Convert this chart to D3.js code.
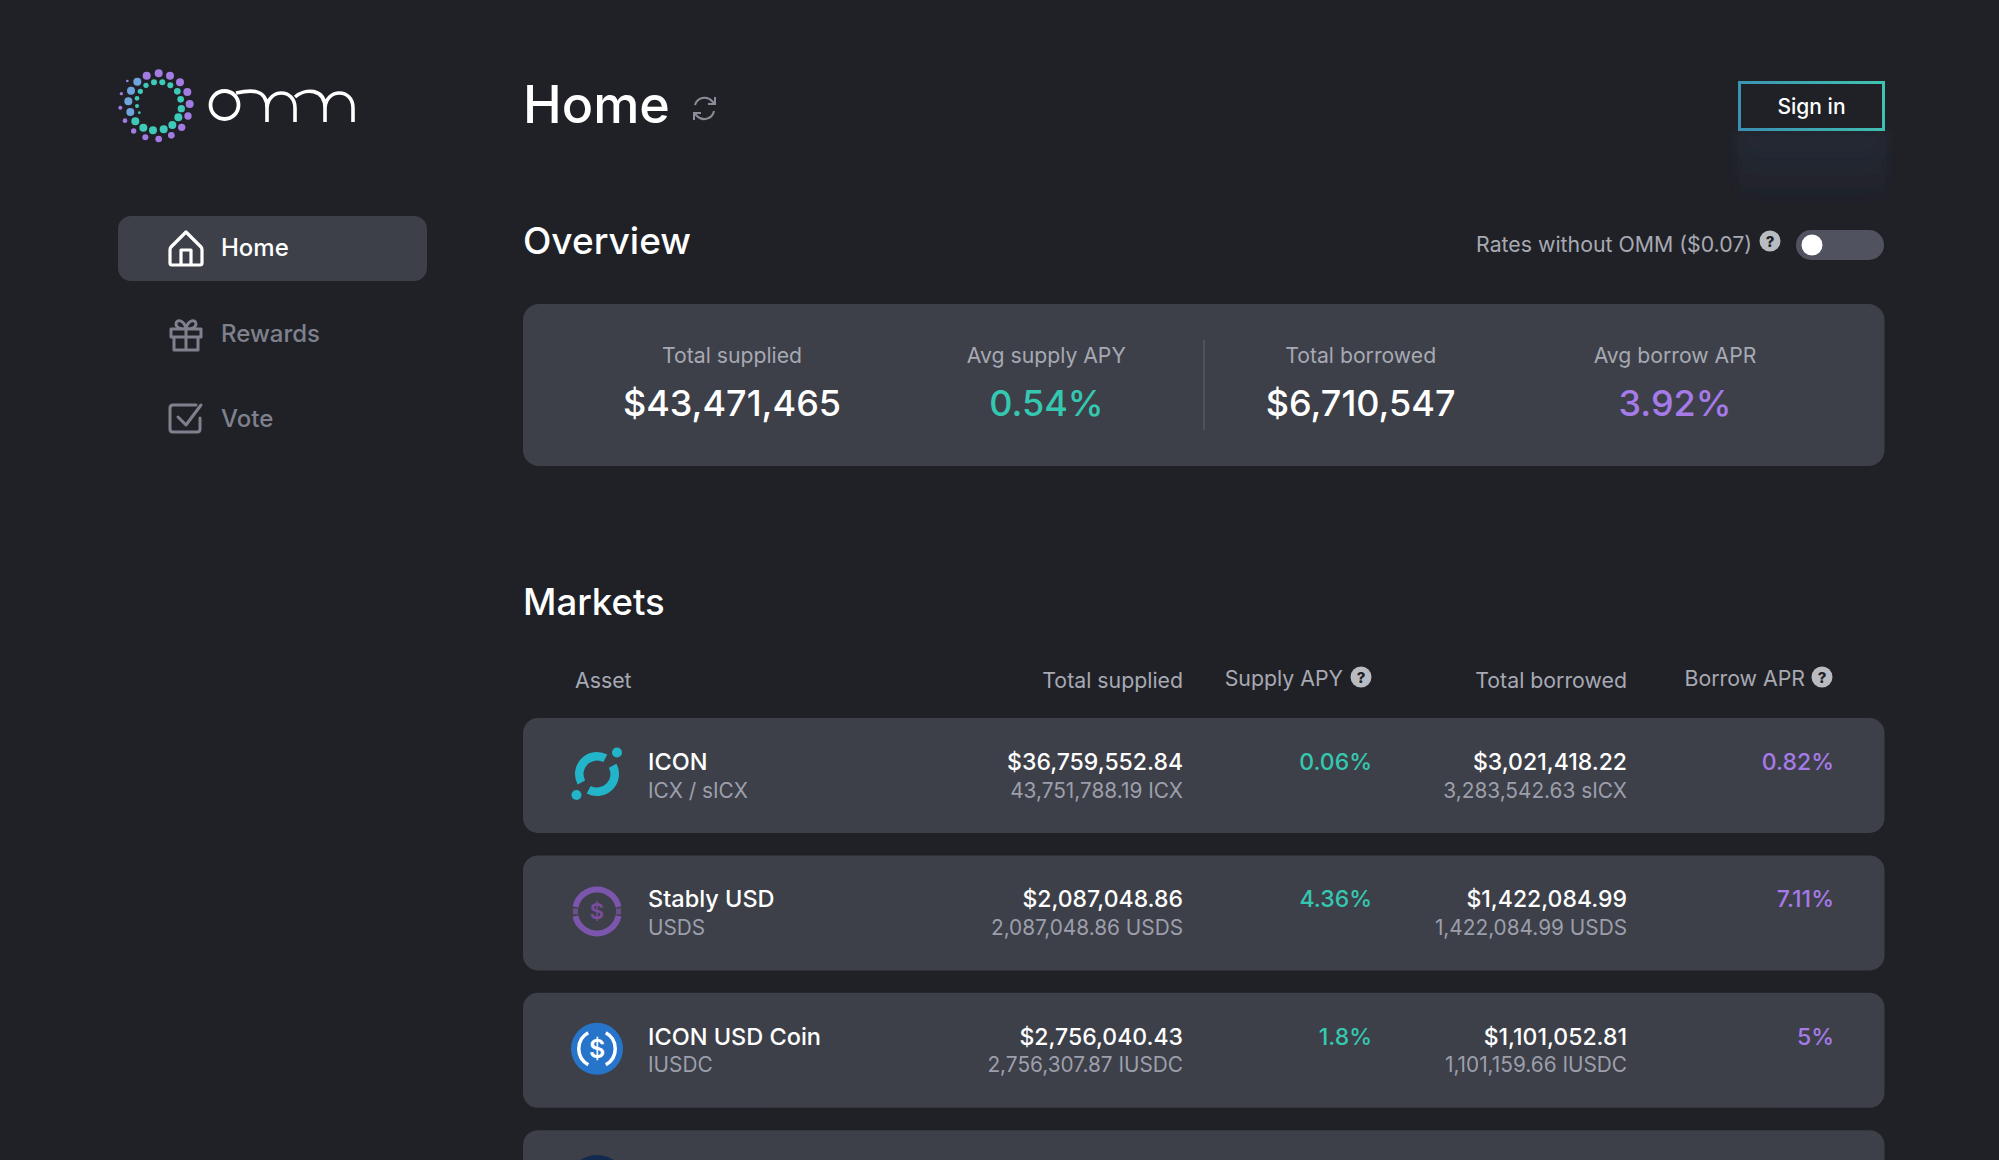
<!DOCTYPE html>
<html>
<head>
<meta charset="utf-8">
<title>OMM home</title>
<script src="https://cdn.jsdelivr.net/npm/d3@7"></script>
<style>
    html, body { margin: 0; padding: 0; background: #202127; overflow: hidden; }
    text { font-family: Inter, "Noto Sans", sans-serif; }
</style>
</head>
<body>
<div id="canvas"></div>
<script>
// overview numbers
const overviewLabels = ['Total supplied', 'Avg supply APY', 'Total borrowed', 'Avg borrow APR'];
const overviewValues = [43471465, 0.54, 6710547, 3.92];
const overviewKinds = ['usd', 'supply', 'usd', 'borrow'];

// markets table
const assetNames = ['ICON', 'Stably USD', 'ICON USD Coin'];
const assetTickers = ['ICX / sICX', 'USDS', 'IUSDC'];
const suppliedUsd = [36759552.84, 2087048.86, 2756040.43];
const suppliedTokens = [43751788.19, 2087048.86, 2756307.87];
const suppliedTicker = ['ICX', 'USDS', 'IUSDC'];
const supplyApy = [0.06, 4.36, 1.8];
const borrowedUsd = [3021418.22, 1422084.99, 1101052.81];
const borrowedTokens = [3283542.63, 1422084.99, 1101159.66];
const borrowedTicker = ['sICX', 'USDS', 'IUSDC'];
const borrowApr = [0.82, 7.11, 5];

const navItems = ['Home', 'Rewards', 'Vote'];

const logoPurple = [[146,40,12],[180,47,12],[210,67,12],[232,96,12],[239,132,12],[234,168,11],[215,202,11],
    [184,226,10],[146,237,10],[106,232,9],[71,213,8],[45,182,7],[31,143,6],[34,101,5],[52,63,4],[110,47,12]];
const logoBlue = [[82,65,12],[63,92,12],[55,124,12],[61,156,12]];
const logoTeal = [[76,184,12],[100,203,12],[129,211,12],[161,208,12],[187,195,12],[205,172,12],[214,146,11],
    [212,118,10],[202,94,10],[181,76,9],[157,67,9],[132,67,9],[108,76,8],[91,94,8],[81,115,7],[81,138,6],[88,158,4]];

const colors = {
    bg: '#202127', card: '#3d4049', white: '#ffffff', label: '#a7a9b3', sub: '#9c9fab',
    nav: '#7e818d', teal: '#35c8b0', purple: '#a67ae8', help: '#b9bbc3'
};

const usd0 = d3.format('$,.0f'), usd2 = d3.format('$,.2f'), num2 = d3.format(',.2f');
const pct = v => d3.format('.2~f')(v) + '%';

const svg = d3.select('#canvas').append('svg').attr('width', 1999).attr('height', 1160)
    .style('display', 'block');
svg.append('rect').attr('width', 1999).attr('height', 1160).attr('fill', colors.bg);

const defs = svg.append('defs');
const glow = defs.append('linearGradient').attr('id', 'glow').attr('x2', 0).attr('y2', 1);
glow.append('stop').attr('offset', 0).attr('stop-color', '#2a3a52').attr('stop-opacity', .35);
glow.append('stop').attr('offset', 1).attr('stop-color', '#2a3a52').attr('stop-opacity', 0);
defs.append('filter').attr('id', 'soft').append('feGaussianBlur').attr('stdDeviation', 8);
const btn = defs.append('linearGradient').attr('id', 'btn').attr('gradientUnits', 'userSpaceOnUse')
    .attr('x1', 1739).attr('x2', 1884).attr('y1', 130).attr('y2', 82);
btn.append('stop').attr('offset', 0).attr('stop-color', '#3a8fb2');
btn.append('stop').attr('offset', 1).attr('stop-color', '#3fc4b0');

function label(g, x, y, txt, size, fill, weight, anchor) {
    return g.append('text').attr('x', x).attr('y', y).text(txt)
        .attr('font-size', size).attr('fill', fill)
        .attr('font-weight', weight || 400).attr('text-anchor', anchor || 'start');
}
function helpIcon(g, x, y) {
    g.append('circle').attr('cx', x).attr('cy', y).attr('r', 10.5).attr('fill', colors.help);
    label(g, x, y + 5.5, '?', 15, colors.bg, 800, 'middle');
}

// logo -----------------------------------------------------------------
const logo = svg.append('g');
const logoX = d3.scaleLinear().domain([0, 300]).range([110, 210]);
const logoY = d3.scaleLinear().domain([0, 270]).range([60, 150]);
[[logoPurple, '#a27ce2'], [logoBlue, '#6ea5dc'], [logoTeal, '#3fc9b8']].forEach(([dots, fill]) => {
    logo.selectAll(null).data(dots).join('circle')
        .attr('cx', d => logoX(d[0])).attr('cy', d => logoY(d[1])).attr('r', d => d[2] / 3)
        .attr('fill', fill);
});
logo.append('circle').attr('cx', 224.5).attr('cy', 105).attr('r', 14)
    .attr('fill', 'none').attr('stroke', '#fff').attr('stroke-width', 3.8);
logo.append('path').attr('fill', 'none').attr('stroke', '#fff').attr('stroke-width', 3.6)
    .attr('d', 'M236,93 C250,90 267,88 267,108 V122 M267,108 C268,88 295,88 295,108 V122 '
        + 'M295,97 C305,88 325,88 325,108 V122 M325,108 C326,88 353,88 353,108 V122');

// side nav -------------------------------------------------------------
const nav = svg.append('g');
const navBase = d3.scaleOrdinal().domain(navItems).range([256, 342, 427]);
nav.append('rect').attr('x', 118).attr('y', 216).attr('width', 309).attr('height', 65)
    .attr('rx', 13).attr('fill', colors.card);
nav.selectAll('text').data(navItems).join('text')
    .attr('x', 221).attr('y', d => navBase(d)).text(d => d)
    .attr('font-size', 24).attr('font-weight', 500)
    .attr('fill', d => d == 'Home' ? colors.white : colors.nav);
nav.append('path').attr('fill', 'none').attr('stroke', '#fff').attr('stroke-width', 3.2)
    .attr('stroke-linejoin', 'round')
    .attr('d', 'M186,232 L171,247 Q170,248 170,250 V263 Q170,265 172,265 H200 Q202,265 202,263 V250 Q202,248 201,247 Z M181,265 V250 H191 V265');
nav.append('path').attr('fill', 'none').attr('stroke', colors.nav).attr('stroke-width', 3)
    .attr('stroke-linejoin', 'round')
    .attr('d', 'M171,329 H201 V337 H171 Z M174,337 V350 H198 V337 M186,329 V350 '
        + 'M186,329 C180,329 176,327 176,324 C176,319 184,319 186,329 C188,319 196,319 196,324 C196,327 192,329 186,329');
nav.append('path').attr('fill', 'none').attr('stroke', colors.nav).attr('stroke-width', 3)
    .attr('stroke-linecap', 'round').attr('stroke-linejoin', 'round')
    .attr('d', 'M196,405 H173 Q170,405 170,408 V429 Q170,432 173,432 H197 Q200,432 200,429 V418 M178,417 L186,425 L201,405');

// header ---------------------------------------------------------------
const head = svg.append('g');
label(head, 523, 123, 'Home', 52, colors.white, 500);
const refresh = head.append('g').attr('fill', 'none').attr('stroke', '#8a8d99').attr('stroke-width', 2);
refresh.append('path').attr('d', 'M695,105 A10,10 0 0 1 712,101 L715,104 M715,97 V104 H708');
refresh.append('path').attr('d', 'M714,111 A10,10 0 0 1 697,116 L694,113 M694,120 V113 H701');
head.append('rect').attr('x', 1738).attr('y', 130).attr('width', 148).attr('height', 75)
    .attr('fill', 'url(#glow)').attr('filter', 'url(#soft)');
head.append('rect').attr('x', 1739.5).attr('y', 82.5).attr('width', 144).attr('height', 47)
    .attr('fill', colors.bg).attr('stroke', 'url(#btn)').attr('stroke-width', 3);
label(head, 1811.5, 113.5, 'Sign in', 21, colors.white, 500, 'middle');

label(head, 523, 254, 'Overview', 37, colors.white, 500);
label(head, 1752, 252, 'Rates without OMM ($0.07)', 21.3, colors.label, 400, 'end');
helpIcon(head, 1770, 241);
head.append('rect').attr('x', 1796).attr('y', 230).attr('width', 88).attr('height', 30).attr('rx', 15).attr('fill', '#50535f');
head.append('circle').attr('cx', 1812).attr('cy', 245).attr('r', 10.5).attr('fill', '#fff');

// overview card --------------------------------------------------------
const card = svg.append('g');
card.append('rect').attr('x', 523).attr('y', 304).attr('width', 1361.5).attr('height', 162)
    .attr('rx', 16).attr('fill', colors.card);
card.append('line').attr('x1', 1204).attr('x2', 1204).attr('y1', 340).attr('y2', 430)
    .attr('stroke', '#555862').attr('stroke-width', 1.5);
const overviewX = d3.scalePoint().domain(overviewLabels).range([732, 1675]);
const overviewFill = {usd: colors.white, supply: colors.teal, borrow: colors.purple};
overviewLabels.forEach((d, i) => {
    const kind = overviewKinds[i];
    label(card, overviewX(d), 363, d, 21.2, colors.label, 400, 'middle');
    label(card, overviewX(d), 416, kind == 'usd' ? usd0(overviewValues[i]) : pct(overviewValues[i]),
        36, overviewFill[kind], 500, 'middle');
});

// markets --------------------------------------------------------------
const market = svg.append('g');
label(market, 523, 615, 'Markets', 36.6, colors.white, 500);
label(market, 575, 688, 'Asset', 21.3, colors.label);
label(market, 1183, 688, 'Total supplied', 21.3, colors.label, 400, 'end');
label(market, 1343, 686, 'Supply APY', 21.3, colors.label, 400, 'end');
helpIcon(market, 1361, 677);
label(market, 1627, 688, 'Total borrowed', 21.3, colors.label, 400, 'end');
label(market, 1805, 686, 'Borrow APR', 21.3, colors.label, 400, 'end');
helpIcon(market, 1822, 677);

// the fourth row is cut off by the bottom of the page
const rowY = d3.scaleLinear().domain([0, 1]).range([718, 855.4]);
market.selectAll('rect.row').data(d3.range(4)).join('rect').attr('class', 'row')
    .attr('x', 523).attr('y', d => rowY(d)).attr('width', 1361.5).attr('height', 115)
    .attr('rx', 15).attr('fill', colors.card);

assetNames.forEach((name, i) => {
    const y = rowY(i);
    const g = market.append('g');
    label(g, 648, y + 52, name, 23.5, colors.white, 500);
    label(g, 648, y + 79.5, assetTickers[i], 20.8, colors.sub);
    label(g, 1183, y + 52, usd2(suppliedUsd[i]), 23, colors.white, 500, 'end');
    label(g, 1183, y + 79.5, num2(suppliedTokens[i]) + ' ' + suppliedTicker[i], 20.8, colors.sub, 400, 'end');
    label(g, 1372, y + 52, pct(supplyApy[i]), 23, colors.teal, 500, 'end');
    label(g, 1627, y + 52, usd2(borrowedUsd[i]), 23, colors.white, 500, 'end');
    label(g, 1627, y + 79.5, num2(borrowedTokens[i]) + ' ' + borrowedTicker[i], 20.8, colors.sub, 400, 'end');
    label(g, 1834, y + 52, pct(borrowApr[i]), 23, colors.purple, 500, 'end');
});

// asset icons
const ic = (i) => market.append('g').attr('transform', `translate(597,${rowY(i) + 56})`);
const arc = d3.arc();
const icon = ic(0);
[[1.08, 3.63], [4.22, 6.77]].forEach(([a, b]) => {
    icon.append('path').attr('fill', '#22b5c9')
        .attr('d', arc({innerRadius: 13.5, outerRadius: 22, startAngle: a, endAngle: b}));
});
icon.append('circle').attr('cx', 20).attr('cy', -21.5).attr('r', 5).attr('fill', '#22b5c9');
icon.append('circle').attr('cx', -20.5).attr('cy', 21).attr('r', 5).attr('fill', '#22b5c9');

const stably = ic(1);
[[-1.36, 1.36], [1.78, 4.5]].forEach(([a, b]) => {
    stably.append('path').attr('fill', '#7c55ad')
        .attr('d', arc({innerRadius: 19, outerRadius: 25, startAngle: a, endAngle: b}));
});
[-1, 1].forEach(s => {
    stably.append('rect').attr('x', s * 21.5 - 2.5).attr('y', -3).attr('width', 5).attr('height', 6)
        .attr('fill', '#6a5088');
});
label(stably, 0, 8, '$', 22, '#7a4d9e', 600, 'middle');

const usdc = ic(2);
usdc.append('circle').attr('r', 26).attr('fill', '#2775ca');
[[0.5, 2.64], [3.64, 5.78]].forEach(([a, b]) => {
    usdc.append('path').attr('fill', '#fff')
        .attr('d', arc({innerRadius: 16.5, outerRadius: 20, startAngle: a, endAngle: b}));
});
label(usdc, 0, 9, '$', 25, '#fff', 600, 'middle');

market.append('circle').attr('cx', 597).attr('cy', 1185).attr('r', 30).attr('fill', '#14294f');
</script>
</body>
</html>
